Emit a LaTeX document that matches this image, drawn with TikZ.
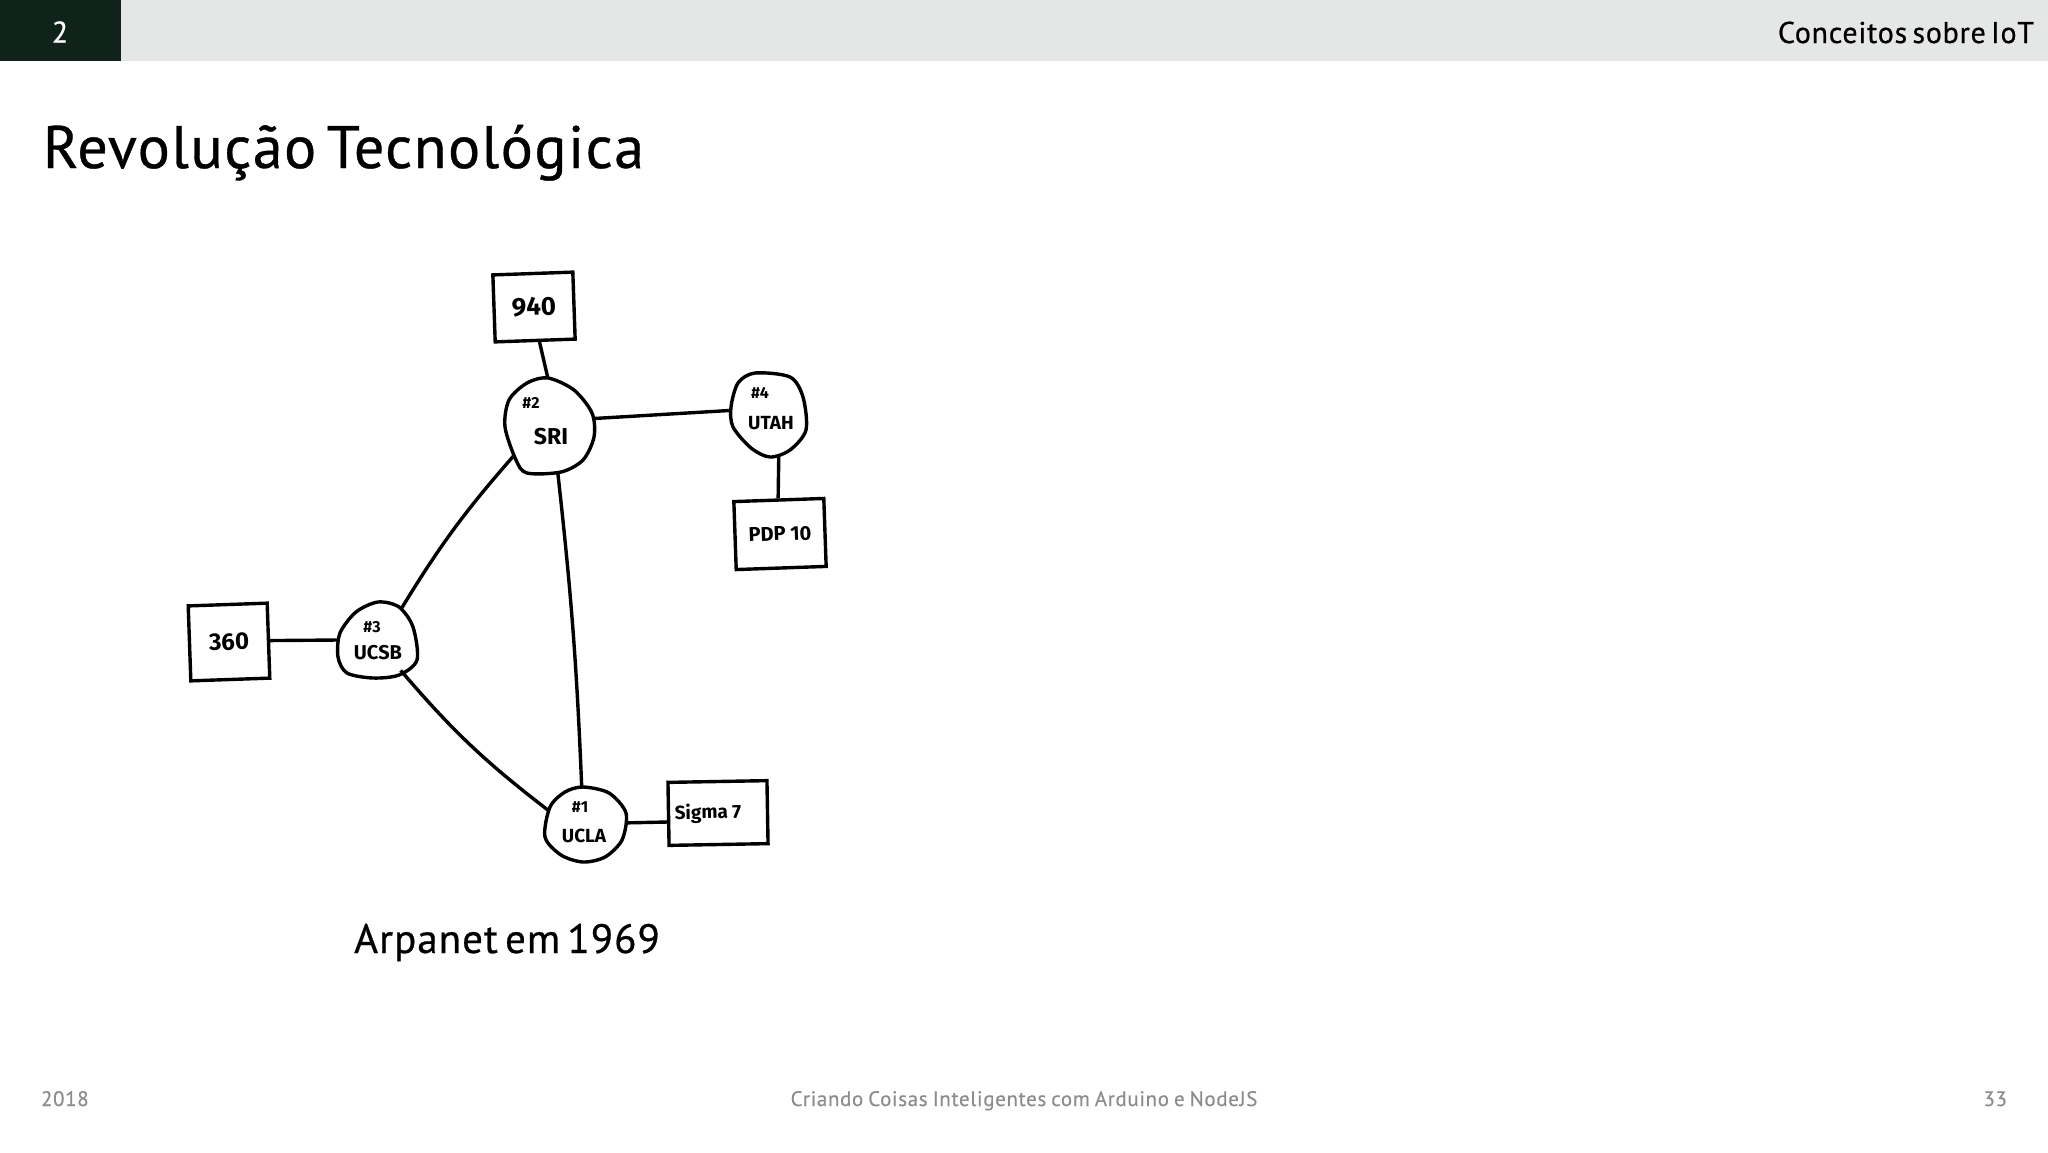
\documentclass[tikz,border=0pt]{standalone}
\usepackage{fontspec}
\setmainfont{PT Sans}
\newfontfamily\slidefont[FakeBold=0.6, LetterSpace=2.5, WordSpace=0.6]{PT Sans}
\newfontfamily\footfont[FakeBold=0.3, LetterSpace=3, WordSpace=0.8]{PT Sans}
\newfontfamily\handfont{Fira Sans}
\usetikzlibrary{shapes.geometric}
\usetikzlibrary{positioning}
\definecolor{bandgreen}{HTML}{0F231B}
\definecolor{bandgrey}{HTML}{E5E7E6}
\definecolor{footgrey}{HTML}{8C8C8C}
\tikzset{
	slidetext/.style = {inner sep=0pt, outer sep=0pt, text=black},
	foottext/.style = {slidetext, text=footgrey, font=\footfont\fontsize{10.5}{12}\selectfont},
	hostbox/.style = {draw, line width=1.7pt, inner sep=0pt, font=\handfont\bfseries},
	imp/.style = {ellipse, inner sep=0pt, outer sep=0pt},
	impline/.style = {line width=1.7pt, line join=round},
	hostline/.style = {line width=1.7pt},
	impnum/.style = {inner sep=0pt, font=\handfont\bfseries\fontsize{8}{9}\selectfont},
	impname/.style = {inner sep=0pt, font=\handfont\bfseries\fontsize{9.5}{11}\selectfont}
}
\begin{document}
\begin{tikzpicture}[x = 0.5pt, y = -0.5pt]
			 	\useasboundingbox (0, 0) rectangle (2048, 1152);
			 	\fill[white] (0, 0) rectangle (2048, 1152);

			 	% Slide frame
			 	\fill[bandgrey] (0, 0) rectangle (2048, 61);
			 	\fill[bandgreen] (0, 0) rectangle (121, 61);
			 	\node[slidetext, text=white, font=\slidefont\fontsize{15}{18}\selectfont] (chapter) at (60, 32) {2};
			 	\node[slidetext, anchor=base east, font=\slidefont\fontsize{15}{18}\selectfont] (section) at (2034, 43) {Conceitos sobre IoT};
			 	\node[slidetext, anchor=base west, font=\slidefont\fontsize{30}{36}\selectfont] (title) at (43, 168) {Revolução Tecnológica};
			 	\node[slidetext, anchor=base, font=\slidefont\fontsize{20.5}{25}\selectfont] (caption) at (507, 953) {Arpanet em 1969};
			 	\node[foottext, anchor=base west] (year) at (41, 1106) {2018};
			 	\node[foottext, anchor=base] (course) at (1024, 1106) {Criando Coisas Inteligentes com Arduino e NodeJS};
			 	\node[foottext, anchor=base east] (page) at (2007, 1106) {33};

			 	% Nodes
			 	\node[imp, minimum width=44.5pt, minimum height=47.5pt] (sri) at (549.5, 425.5) {};
			 	\node[imp, minimum width=37.5pt, minimum height=42pt] (utah) at (768, 415) {};
			 	\node[imp, minimum width=39.5pt, minimum height=38pt] (ucsb) at (377, 640) {};
			 	\node[imp, minimum width=40.5pt, minimum height=37.5pt] (ucla) at (585, 825) {};

			 	\node[hostbox, rotate=2, minimum width=40pt, minimum height=33.5pt, font=\handfont\bfseries\fontsize{13}{15}\selectfont] (b940) at (534, 307) {940};
			 	\node[hostbox, rotate=2, minimum width=45pt, minimum height=34pt, font=\handfont\bfseries\fontsize{10}{12}\selectfont] (pdp) at (780, 534) {PDP 10};
			 	\node[hostbox, rotate=2, minimum width=39.5pt, minimum height=37.5pt, font=\handfont\bfseries\fontsize{12}{14}\selectfont] (b360) at (229, 642) {360};
			 	\node[hostbox, rotate=1, minimum width=49.5pt, minimum height=31.5pt, font=\handfont\bfseries\fontsize{9.5}{11}\selectfont] (sigma) at (718, 813) {Sigma 7\hspace*{10pt}};

			 	% Hand drawn outlines
			 	\draw[impline] plot[smooth cycle] coordinates {(548,378) (574,390) (592,413) (594,437) (583,460) (561,472) (527,473) (516,460) (505,427) (509,400) (527,383)};
			 	\draw[impline] plot[smooth cycle] coordinates {(755,373) (790,377) (803,397) (806,430) (790,450) (770,457) (751,448) (733,427) (731,407) (738,383)};
			 	\draw[impline] plot[smooth cycle] coordinates {(378,602) (399,607) (413,627) (417,660) (399,675) (373,678) (347,673) (338,657) (340,633) (356,612)};
			 	\draw[impline] plot[smooth cycle] coordinates {(583,787) (609,793) (626,813) (622,840) (605,857) (583,862) (561,855) (545,837) (550,807) (565,792)};

			 	% Labels
			 	\node[impnum] (srinum) at (531, 403) {\#2};
			 	\node[impname, font=\handfont\bfseries\fontsize{11.5}{13}\selectfont] (sriname) at (551, 437) {SRI};
			 	\node[impnum] (utahnum) at (760, 393) {\#4};
			 	\node[impname] (utahname) at (771, 423) {UTAH};
			 	\node[impnum] (ucsbnum) at (372, 627) {\#3};
			 	\node[impname, font=\handfont\bfseries\fontsize{10}{12}\selectfont] (ucsbname) at (378, 653) {UCSB};
			 	\node[impnum] (uclanum) at (580, 807) {\#1};
			 	\node[impname] (uclaname) at (584, 836) {UCLA};

			 	% Edges
			 	\draw[hostline] (b940.-83) to (sri.92);
			 	\draw[hostline] (sri.9) to (utah.173);
			 	\draw[hostline] (utah.-75) to (pdp.91);
			 	\draw[hostline] (sri.-80) to [bend left=2] (ucla.95);
			 	\draw[hostline] (sri.-140) to [bend right=5] (ucsb.52);
			 	\draw[hostline] (ucsb.-52) to [bend right=6] (ucla.158);
			 	\draw[hostline] (b360.east) to (ucsb.west);
			 	\draw[hostline] (ucla.3) to (sigma.189);
\end{tikzpicture}
\end{document}
